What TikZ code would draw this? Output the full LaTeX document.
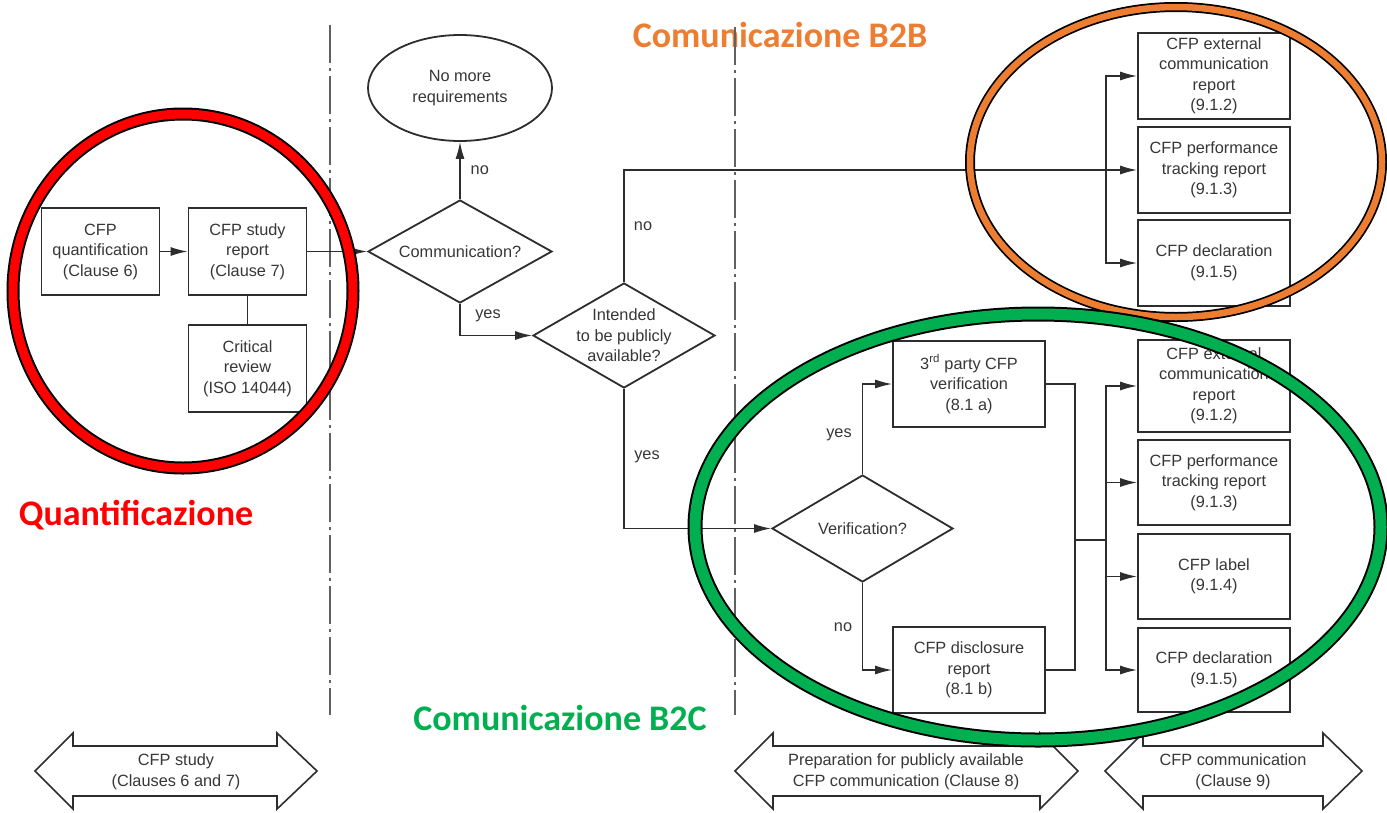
\documentclass[tikz,border=0pt]{standalone}
\usepackage{fontspec}
\setmainfont{Liberation Sans}
\newfontfamily\carl{Carlito}
\usetikzlibrary{arrows.meta,shapes.geometric}
\definecolor{ln}{RGB}{45,45,45}
\definecolor{tx}{RGB}{55,55,55}
\definecolor{ored}{RGB}{255,0,0}
\definecolor{oorange}{RGB}{237,125,49}
\definecolor{ogreen}{RGB}{0,176,80}
\newcommand\dblarrowshape[4]{%
  \draw[draw=ln, line width=1.6pt, fill=white, line join=miter]
    (#1,771) -- (#2,733) -- (#2,746) -- (#3,746) -- (#3,733) -- (#4,771)
    -- (#3,809) -- (#3,796) -- (#2,796) -- (#2,809) -- cycle;}
\begin{document}
\begin{tikzpicture}[x=1pt,y=-1pt,
  every node/.style={font=\fontsize{16.3}{20.5}\selectfont, text=tx, inner sep=0pt},
  box/.style={draw=ln, line width=1.8pt, rectangle, minimum width=152pt, minimum height=86pt, align=center},
  dia/.style={draw=ln, line width=1.8pt, diamond},
  conn/.style={draw=ln, line width=1.4pt},
  arr/.style={conn, -{Latex[length=17pt,width=9pt]}},
  sep/.style={draw=ln!75, line width=2pt, dash pattern=on 38pt off 5pt on 3pt off 5pt},
  big/.style={font=\carl\bfseries\fontsize{36}{40}\selectfont},
  bigtext/.style={align=center}
]
\useasboundingbox (0,0) rectangle (1387,812);
\fill[white] (0,0) rectangle (1387,812);

% colored titles (behind separators)
\node[big, text=oorange] (tB2B) at (780,35) {Comunicazione B2B};
\node[big, text=ogreen] (tB2C) at (560,718) {Comunicazione B2C};
\node[big, text=ored] (tQ) at (136,515) {Quantificazione};

% separators
\draw[sep] (330,25) -- (330,715);
\draw[sep] (735,27) -- (735,715);

% nodes
\node[box, minimum width=118pt, minimum height=87pt] (quant) at (100.5,251.5) {CFP\\quantification\\(Clause 6)};
\node[box, minimum width=118pt, minimum height=87pt] (study) at (247.5,251.5) {CFP study\\report\\(Clause 7)};
\node[box, minimum width=118pt, minimum height=87pt] (crit) at (247.5,368.5) {Critical\\review\\(ISO 14044)};
\node[draw=ln, line width=1.8pt, ellipse, minimum width=184pt, minimum height=106pt, align=center] (nomore) at (460,88) {No more\\requirements};
\node[dia, minimum width=184pt, minimum height=103pt, label={[align=center]center:Communication?}] (comm) at (460,251.5) {};
\node[dia, minimum width=182pt, minimum height=105pt, label={[align=center]center:{Intended\\to be publicly\\available?}}] (intended) at (624,335.5) {};
\node[dia, minimum width=181pt, minimum height=107pt, label={[align=center]center:Verification?}] (verif) at (862.5,528.5) {};
\node[box] (third) at (969,384) {3\textsuperscript{rd} party CFP\\verification\\(8.1 a)};
\node[box] (discl) at (969,670) {CFP disclosure\\report\\(8.1 b)};

\node[box] (ext1) at (1214,76) {CFP external\\communication\\report\\(9.1.2)};
\node[box] (perf1) at (1214,170) {CFP performance\\tracking report\\(9.1.3)};
\node[box] (decl1) at (1214,263) {CFP declaration\\(9.1.5)};

\node[box, minimum height=92pt] (ext2) at (1214,386) {CFP external\\communication\\report\\(9.1.2)};
\node[box, minimum height=85pt] (perf2) at (1214,482.5) {CFP performance\\tracking report\\(9.1.3)};
\node[box, minimum height=85pt] (label2) at (1214,576.5) {CFP label\\(9.1.4)};
\node[box, minimum height=84pt] (decl2) at (1214,670) {CFP declaration\\(9.1.5)};

\coordinate (bus1) at (1106,170);
\coordinate (j) at (1075,540);
\coordinate (bus2) at (1106,540);

% connectors
\draw[arr] (quant.east) -- (study.west);
\draw[conn] (study.south) -- (crit.north);
\draw[arr] (study.east) -- (comm.west);
\draw[arr] (comm.north) -- node[pos=0.5, right=10pt] (lno1) {no} (nomore.south);
\draw[arr] (comm.south) |- (intended.west);
\node (lyes1) at (488,316) {yes};
\draw[arr] (intended.north) |- (perf1.west);
\node (lno2) at (643,226) {no};
\draw[arr] (intended.south) |- (verif.west);
\node (lyes2) at (647,457) {yes};
\draw[arr] (verif.north) |- (third.west);
\node (lyes3) at (839,435) {yes};
\draw[arr] (verif.south) |- (discl.west);
\node (lno3) at (843,627) {no};
\draw[conn] (third.east) -| (j);
\draw[conn] (discl.east) -| (j);
\draw[conn] (j) -- (bus2);
\draw[arr] (bus1) |- (ext1.west);
\draw[arr] (bus1) |- (decl1.west);
\draw[arr] (bus2) |- (ext2.west);
\draw[arr] (bus2) |- (perf2.west);
\draw[arr] (bus2) |- (label2.west);
\draw[arr] (bus2) |- (decl2.west);

% bottom double arrows
\dblarrowshape{35}{73}{277}{317}
\node[bigtext] (a1) at (176,772) {CFP study\\(Clauses 6 and 7)};
\dblarrowshape{735}{773}{1040}{1078}
\node[bigtext] (a2) at (906,772) {Preparation for publicly available\\CFP communication (Clause 8)};
\dblarrowshape{1105}{1143}{1323}{1362}
\node[bigtext] (a3) at (1233,772) {CFP communication\\(Clause 9)};

% colored rings
\draw[black, line width=13pt] (183,291) ellipse [x radius=170pt, y radius=177pt];
\draw[ored, line width=9pt] (183,291) ellipse [x radius=170pt, y radius=177pt];
\draw[black, line width=10pt] (1176,162) ellipse [x radius=206pt, y radius=155pt];
\draw[oorange, line width=6.5pt] (1176,162) ellipse [x radius=206pt, y radius=155pt];
\draw[black, line width=15pt] (1038,527) ellipse [x radius=343pt, y radius=213pt];
\draw[ogreen, line width=11pt] (1038,527) ellipse [x radius=343pt, y radius=213pt];
\end{tikzpicture}
\end{document}
